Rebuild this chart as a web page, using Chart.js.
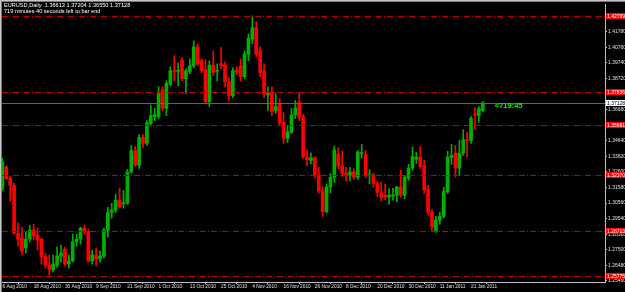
<!DOCTYPE html>
<html>
<head>
<meta charset="utf-8">
<script src="https://cdn.jsdelivr.net/npm/chart.js@4.4.0/dist/chart.umd.min.js"></script>
<style>
  html, body { margin: 0; padding: 0; background: #000; }
  canvas { display: block; }
</style>
</head>
<body>
<canvas id="eurusdChart" width="625" height="292"></canvas>
<script>
// EURUSD daily candles, 6 Aug 2010 .. 26 Jan 2011
const openP = [1.3152, 1.3291, 1.3218, 1.3172, 1.2858, 1.2828, 1.2762, 1.2819, 1.2878, 1.2845,
    1.2819, 1.2704, 1.2649, 1.2617, 1.2649, 1.2708, 1.2754, 1.2656, 1.2676, 1.2802,
    1.2819, 1.2891, 1.2871, 1.2676, 1.2715, 1.2689, 1.2708, 1.2878, 1.2995, 1.3008,
    1.3074, 1.3051, 1.3054, 1.3259, 1.3400, 1.3302, 1.3485, 1.3448, 1.3577, 1.3622,
    1.3622, 1.3797, 1.3676, 1.3836, 1.3926, 1.3919, 1.3993, 1.3869, 1.3918, 1.3955,
    1.4079, 1.3988, 1.3929, 1.3720, 1.3960, 1.3919, 1.3970, 1.3960, 1.3851, 1.3760,
    1.3927, 1.3955, 1.3884, 1.4032, 1.4130, 1.4205, 1.4053, 1.3918, 1.3764, 1.3781,
    1.3661, 1.3705, 1.3585, 1.3481, 1.3520, 1.3633, 1.3716, 1.3622, 1.3357, 1.3335,
    1.3352, 1.3240, 1.3135, 1.3000, 1.3160, 1.3225, 1.3374, 1.3300, 1.3250, 1.3240,
    1.3260, 1.3225, 1.3380, 1.3374, 1.3235, 1.3240, 1.3185, 1.3122, 1.3107, 1.3095,
    1.3102, 1.3107, 1.3161, 1.3107, 1.3219, 1.3285, 1.3342, 1.3357, 1.3302, 1.3146,
    1.2997, 1.2867, 1.2943, 1.2969, 1.3128, 1.3353, 1.3383, 1.3285, 1.3383, 1.3470,
    1.3466, 1.3640, 1.3629, 1.36613];
const highP = [1.3348, 1.3302, 1.3231, 1.3185, 1.2926, 1.2897, 1.2865, 1.2911, 1.2917, 1.2891,
    1.2826, 1.2728, 1.2715, 1.2715, 1.2767, 1.2780, 1.2767, 1.2715, 1.2852, 1.2852,
    1.2897, 1.2911, 1.2884, 1.2747, 1.2760, 1.2741, 1.2891, 1.3028, 1.3054, 1.3113,
    1.3152, 1.3139, 1.3276, 1.3433, 1.3426, 1.3505, 1.3505, 1.3596, 1.3694, 1.3675,
    1.3818, 1.3818, 1.3857, 1.3949, 1.4021, 1.3975, 1.4008, 1.3936, 1.4001, 1.4119,
    1.4099, 1.4001, 1.3995, 1.3988, 1.4053, 1.3968, 1.4075, 1.3981, 1.3877, 1.3942,
    1.3949, 1.4001, 1.4053, 1.4164, 1.4282, 1.4245, 1.4079, 1.3968, 1.3818, 1.3818,
    1.3773, 1.3740, 1.3648, 1.3564, 1.3675, 1.3727, 1.3781, 1.3635, 1.3405, 1.3385,
    1.3360, 1.3290, 1.3160, 1.3180, 1.3250, 1.3430, 1.3420, 1.3396, 1.3290, 1.3290,
    1.3280, 1.3400, 1.3440, 1.3400, 1.3275, 1.3250, 1.3200, 1.3193, 1.3178, 1.3150,
    1.3152, 1.3165, 1.3270, 1.3237, 1.3309, 1.3422, 1.3387, 1.3426, 1.3335, 1.3172,
    1.3015, 1.2969, 1.2995, 1.3159, 1.3395, 1.3440, 1.3433, 1.3466, 1.3536, 1.3520,
    1.3622, 1.3679, 1.3688, 1.37204];
const lowP = [1.3139, 1.3209, 1.3069, 1.2852, 1.2773, 1.2715, 1.2728, 1.2800, 1.2813, 1.2747,
    1.2656, 1.2630, 1.2584, 1.2604, 1.2636, 1.2669, 1.2643, 1.2630, 1.2669, 1.2773,
    1.2787, 1.2852, 1.2669, 1.2656, 1.2643, 1.2669, 1.2695, 1.2832, 1.2956, 1.2995,
    1.3022, 1.3022, 1.3048, 1.3250, 1.3296, 1.3283, 1.3420, 1.3433, 1.3564, 1.3596,
    1.3609, 1.3661, 1.3629, 1.3825, 1.3857, 1.3825, 1.3857, 1.3773, 1.3903, 1.3942,
    1.3955, 1.3910, 1.3707, 1.3688, 1.3890, 1.3857, 1.3936, 1.3818, 1.3727, 1.3746,
    1.3897, 1.3857, 1.3870, 1.3988, 1.4099, 1.4014, 1.3884, 1.3746, 1.3661, 1.3629,
    1.3642, 1.3564, 1.3446, 1.3453, 1.3511, 1.3609, 1.3596, 1.3348, 1.3300, 1.3312,
    1.3220, 1.3120, 1.2969, 1.2990, 1.3120, 1.3190, 1.3280, 1.3230, 1.3200, 1.3200,
    1.3210, 1.3210, 1.3350, 1.3220, 1.3180, 1.3160, 1.3100, 1.3069, 1.3078, 1.3048,
    1.3074, 1.3063, 1.3093, 1.3085, 1.3204, 1.3270, 1.3315, 1.3283, 1.3119, 1.2976,
    1.2871, 1.2865, 1.2917, 1.2956, 1.3119, 1.3309, 1.3226, 1.3237, 1.3368, 1.3357,
    1.3446, 1.3536, 1.3585, 1.36550];
const closeP = [1.3324, 1.3216, 1.3172, 1.2858, 1.2819, 1.2743, 1.2819, 1.2878, 1.2841, 1.2813,
    1.2704, 1.2649, 1.2621, 1.2656, 1.2710, 1.2728, 1.2656, 1.2676, 1.2802, 1.2819,
    1.2891, 1.2867, 1.2676, 1.2715, 1.2689, 1.2708, 1.2878, 1.2995, 1.3008, 1.3074,
    1.3030, 1.3057, 1.3259, 1.3400, 1.3309, 1.3485, 1.3448, 1.3583, 1.3629, 1.3635,
    1.3774, 1.3676, 1.3840, 1.3923, 1.3919, 1.3926, 1.3872, 1.3923, 1.3955, 1.4079,
    1.3966, 1.3923, 1.3720, 1.3960, 1.3912, 1.3926, 1.3955, 1.3851, 1.3760, 1.3923,
    1.3912, 1.3884, 1.4032, 1.4136, 1.4205, 1.4032, 1.3912, 1.3771, 1.3781, 1.3655,
    1.3688, 1.3579, 1.3481, 1.3524, 1.3633, 1.3679, 1.3618, 1.3357, 1.3340, 1.3352,
    1.3240, 1.3135, 1.3000, 1.3160, 1.3225, 1.3405, 1.3300, 1.3250, 1.3240, 1.3260,
    1.3225, 1.3389, 1.3385, 1.3235, 1.3240, 1.3185, 1.3125, 1.3091, 1.3095, 1.3107,
    1.3111, 1.3161, 1.3107, 1.3226, 1.3285, 1.3361, 1.3357, 1.3296, 1.3144, 1.2997,
    1.2899, 1.2943, 1.2969, 1.3133, 1.3357, 1.3368, 1.3285, 1.3383, 1.3470, 1.3464,
    1.3611, 1.3633, 1.3673, 1.37128];

// bottom axis: bar index of each date label
const dateTickIdx = [0, 8, 16, 24, 32, 40, 48, 56, 64, 72, 80, 88, 96, 104, 112, 120];
const dateLabels = ['6 Aug 2010', '18 Aug 2010', '30 Aug 2010', '9 Sep 2010', '21 Sep 2010', '1 Oct 2010',
    '13 Oct 2010', '25 Oct 2010', '4 Nov 2010', '16 Nov 2010', '26 Nov 2010', '8 Dec 2010',
    '20 Dec 2010', '30 Dec 2010', '11 Jan 2011', '21 Jan 2011'];

// right axis price ticks
const priceTicks = [1.25460, 1.26480, 1.27500, 1.28520, 1.29540, 1.30560, 1.31580, 1.32600, 1.33620,
    1.34640, 1.35660, 1.36680, 1.37700, 1.38720, 1.39740, 1.40760, 1.41780];

// horizontal red levels and current bid
const levels = [1.42799, 1.37836, 1.35681, 1.32370, 1.28713, 1.25775];
const bidPrice = 1.37128;
const titleLine = 'EURUSD,Daily  1.36613 1.37204 1.36550 1.37128';
const timerLine = '719 minutes 40 seconds left to bar end';
const timerTag = '<719:45';

const GREEN = '#00b000';
const RED = '#ff0000';
const AXIS = '#c0c0c0';
const FONT = 'Liberation Sans';

const bodyData = openP.map((o, i) => ({ x: i, y: [o, closeP[i]] }));
const wickData = openP.map((o, i) => ({ x: i, y: [lowP[i], highP[i]] }));
const candleColor = c => closeP[c.dataIndex] >= openP[c.dataIndex] ? GREEN : RED;

const terminalPlugin = {
    id: 'terminal',
    beforeDraw(chart) {
        const ctx = chart.ctx;
        ctx.save();
        ctx.fillStyle = '#000';
        ctx.fillRect(0, 0, chart.width, chart.height);
        ctx.restore();
    },
    afterDatasetsDraw(chart) {
        const ctx = chart.ctx;
        const area = chart.chartArea;
        const y = chart.scales.y;
        ctx.save();
        ctx.beginPath();
        ctx.rect(area.left, area.top, area.right - area.left, area.bottom - area.top);
        ctx.clip();

        // dash-dot levels
        ctx.strokeStyle = '#c00000';
        ctx.lineWidth = 1;
        ctx.setLineDash([6, 2, 1, 2]);
        levels.forEach(v => {
            const py = Math.round(y.getPixelForValue(v)) + 0.5;
            ctx.beginPath();
            ctx.moveTo(area.left, py);
            ctx.lineTo(area.right, py);
            ctx.stroke();
        });

        // bid line
        ctx.setLineDash([]);
        ctx.strokeStyle = '#60656c';
        const by = Math.round(y.getPixelForValue(bidPrice)) + 0.5;
        ctx.beginPath();
        ctx.moveTo(area.left, by);
        ctx.lineTo(area.right, by);
        ctx.stroke();
        ctx.restore();
    },
    afterDraw(chart) {
        const ctx = chart.ctx;
        const area = chart.chartArea;
        const x = chart.scales.x;
        const y = chart.scales.y;
        ctx.save();

        // window frame
        ctx.fillStyle = '#c8c8c8';
        ctx.fillRect(0, 0, chart.width, 1);
        ctx.fillRect(0, 0, 1, chart.height);
        ctx.fillStyle = '#7a7a7a';
        ctx.fillRect(1, 1, chart.width - 1, 1);
        ctx.fillRect(1, 1, 1, chart.height - 1);

        // level price tags
        ctx.font = '5px ' + FONT;
        ctx.textBaseline = 'middle';
        ctx.textAlign = 'left';
        levels.forEach(v => {
            const py = Math.round(y.getPixelForValue(v));
            ctx.fillStyle = RED;
            ctx.fillRect(area.right + 1, py - 3, 19, 6);
            ctx.fillStyle = '#fff';
            ctx.fillText(v.toFixed(5), area.right + 2, py + 0.5);
        });
        const by = Math.round(y.getPixelForValue(bidPrice));
        ctx.fillStyle = '#fff';
        ctx.fillRect(area.right + 1, by - 3, 19, 6);
        ctx.fillStyle = '#000';
        ctx.fillText(bidPrice.toFixed(5), area.right + 2, by + 0.5);

        // header text
        ctx.font = '5.6px ' + FONT;
        ctx.fillStyle = '#fff';
        ctx.fillText(titleLine, 4, 5.5);
        ctx.fillText(timerLine, 4, 11.5);

        // bar countdown
        ctx.fillStyle = '#00ff00';
        ctx.font = 'bold 7.5px ' + FONT;
        ctx.fillText(timerTag, x.getPixelForValue(openP.length - 1) + 12, 106);
        ctx.restore();
    }
};

new Chart(document.getElementById('eurusdChart'), {
    type: 'bar',
    data: {
        datasets: [{
            label: 'Body',
            data: bodyData,
            backgroundColor: candleColor,
            barThickness: 3,
            minBarLength: 1,
            grouped: false,
            order: 1
        }, {
            label: 'Wick',
            data: wickData,
            backgroundColor: candleColor,
            barThickness: 1,
            grouped: false,
            order: 2
        }]
    },
    options: {
        responsive: false,
        animation: false,
        layout: { padding: { left: 2, top: 3, right: 0, bottom: 0 } },
        plugins: {
            legend: { display: false },
            tooltip: { enabled: false }
        },
        scales: {
            x: {
                type: 'linear',
                min: -0.1,
                max: 154.3,
                offset: false,
                grid: { drawOnChartArea: false, drawTicks: true, tickLength: 2, tickColor: AXIS },
                border: { color: AXIS },
                afterBuildTicks: s => { s.ticks = dateTickIdx.map(v => ({ value: v })); },
                afterFit: s => { s.height = 10; },
                ticks: {
                    align: 'start',
                    autoSkip: false,
                    maxRotation: 0,
                    padding: 0,
                    color: '#e0e0e0',
                    font: { family: FONT, size: 4.8 },
                    callback: (v, k) => dateLabels[k]
                }
            },
            y: {
                position: 'right',
                min: 1.25383,
                max: 1.43602,
                grid: { drawOnChartArea: false, drawTicks: true, tickLength: 2, tickColor: AXIS },
                border: { color: AXIS },
                afterBuildTicks: s => { s.ticks = priceTicks.map(v => ({ value: v })); },
                afterFit: s => { s.width = 20; },
                ticks: {
                    autoSkip: false,
                    padding: 1,
                    color: '#e0e0e0',
                    font: { family: FONT, size: 5 },
                    callback: v => v.toFixed(5)
                }
            }
        }
    },
    plugins: [terminalPlugin]
});
</script>
</body>
</html>
